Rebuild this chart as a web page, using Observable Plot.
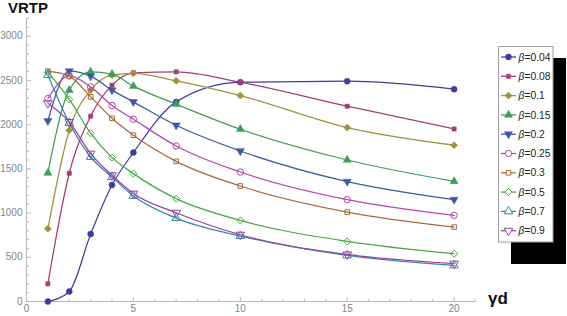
<!DOCTYPE html>
<html>
<head>
<meta charset="utf-8">
<script src="https://cdn.jsdelivr.net/npm/d3@7"></script>
<script src="https://cdn.jsdelivr.net/npm/@observablehq/plot@0.6"></script>
<style>
  html, body { margin: 0; padding: 0; background: white; overflow: hidden; }
  #wrap { position: relative; width: 567px; height: 316px; overflow: hidden; font-family: "Liberation Sans", Arial, sans-serif; }
  #wrap > svg { position: absolute; left: 0; top: 0; }
</style>
</head>
<body>
<div id="wrap"></div>
<script>
// ---- data ----
const gammaD = [1, 2, 3, 4, 5, 7, 10, 15, 20];
const betaLabels = ["0.04", "0.08", "0.1", "0.15", "0.2", "0.25", "0.3", "0.5", "0.7", "0.9"];
const vrtpB004 = [0, 113, 762, 1317, 1684, 2257, 2480, 2491, 2401];
const vrtpB008 = [200, 1450, 2095, 2446, 2586, 2597, 2480, 2208, 1951];
const vrtpB010 = [823, 1937, 2390, 2560, 2580, 2495, 2329, 1967, 1767];
const vrtpB015 = [1453, 2390, 2597, 2571, 2435, 2231, 1948, 1600, 1359];
const vrtpB020 = [2042, 2605, 2548, 2390, 2257, 1993, 1702, 1356, 1152];
const vrtpB025 = [2295, 2550, 2427, 2216, 2061, 1759, 1464, 1152, 974];
const vrtpB030 = [2605, 2548, 2314, 2072, 1880, 1585, 1306, 1011, 841];
const vrtpB050 = [2590, 2285, 1903, 1627, 1446, 1163, 917, 680, 540];
const vrtpB070 = [2560, 2019, 1634, 1408, 1193, 943, 740, 521, 408];
const vrtpB090 = [2242, 2030, 1672, 1427, 1220, 1004, 755, 532, 428];
const yTickValues = [0, 500, 1000, 1500, 2000, 2500, 3000];
const xTickValues = [0, 5, 10, 15, 20];

const seriesValues = [vrtpB004, vrtpB008, vrtpB010, vrtpB015, vrtpB020, vrtpB025, vrtpB030, vrtpB050, vrtpB070, vrtpB090];

// ---- styles ----
const colors = ["#3d3d9e", "#a33d74", "#a0913c", "#3d9e57", "#3d5aa2", "#b347ad", "#a56c3d", "#48a840", "#3d86a2", "#9444a3"];
const symbols = ["circle", "square", "diamond2", "triangle", "triangle", "circle", "square", "diamond2", "triangle", "triangle"];
const rotations = [0, 0, 0, 0, 180, 0, 0, 0, 0, 180];
const filled = [true, true, true, true, true, false, false, false, false, false];
const radii = [3, 2.4, 3.2, 3, 3, 3.2, 2.6, 3.2, 3.2, 3.2];

const rows = [];
seriesValues.forEach((vals, i) => {
  vals.forEach((v, j) => rows.push({ s: i, beta: betaLabels[i], g: gammaD[j], v }));
});

// tick symbols (inward ticks, Mathematica-style)
const axisGray = "#b8b8b8";
const hTick = L => ({ draw(ctx) { ctx.moveTo(0, 0); ctx.lineTo(L, 0); } });
const vTick = L => ({ draw(ctx) { ctx.moveTo(0, 0); ctx.lineTo(0, -L); } });
const yMinor = d3.range(0, 3201, 100).filter(d => !yTickValues.includes(d));
const xMinor = d3.range(0, 22, 1).filter(d => !xTickValues.includes(d));

const seriesMarks = [];
seriesValues.forEach((vals, i) => {
  const data = rows.filter(r => r.s === i);
  seriesMarks.push(Plot.line(data, { x: "g", y: "v", stroke: colors[i], strokeWidth: 1.25, curve: "monotone-x" }));
});
seriesValues.forEach((vals, i) => {
  const data = rows.filter(r => r.s === i);
  seriesMarks.push(Plot.dot(data, {
    x: "g", y: "v", symbol: symbols[i], r: radii[i], rotate: rotations[i],
    fill: filled[i] ? colors[i] : "none",
    stroke: colors[i], strokeWidth: filled[i] ? 0.5 : 1
  }));
});

const chart = Plot.plot({
  width: 567, height: 316,
  marginLeft: 26, marginRight: 92, marginTop: 18, marginBottom: 15,
  x: { domain: [0, 21] },
  y: { domain: [0, 3200] },
  style: { fontFamily: "'Liberation Sans', Arial, sans-serif", fontSize: "10px", color: "#858585", background: "transparent", overflow: "visible" },
  marks: [
    Plot.ruleX([0], { stroke: axisGray }),
    Plot.ruleY([0], { stroke: axisGray }),
    Plot.dot(yMinor, { x: 0, y: d => d, symbol: hTick(2.5), fill: "none", stroke: axisGray, strokeWidth: 1 }),
    Plot.dot(yTickValues, { x: 0, y: d => d, symbol: hTick(4.5), fill: "none", stroke: axisGray, strokeWidth: 1 }),
    Plot.dot(xMinor, { x: d => d, y: 0, symbol: vTick(2.5), fill: "none", stroke: axisGray, strokeWidth: 1 }),
    Plot.dot(xTickValues, { x: d => d, y: 0, symbol: vTick(4.5), fill: "none", stroke: axisGray, strokeWidth: 1 }),
    Plot.axisY({ ticks: yTickValues, tickSize: 0, tickPadding: 4, label: null, tickFormat: d => String(d) }),
    Plot.axisX({ ticks: xTickValues, tickSize: 0, tickPadding: 3, label: null, tickFormat: d => String(d) }),
    ...seriesMarks
  ]
});
const wrap = document.getElementById("wrap");
wrap.appendChild(chart);

// overlay svg: axis titles and legend
const ov = d3.select(wrap).append("svg")
  .attr("width", 567).attr("height", 316)
  .style("font-family", "'Liberation Sans', Arial, sans-serif");
ov.append("text").text("VRTP")
  .attr("x", 8).attr("y", 12.5)
  .attr("font-size", 15).attr("font-weight", "bold").attr("fill", "#111");
ov.append("text").text("γd")
  .attr("x", 488).attr("y", 304)
  .attr("font-size", 17).attr("font-weight", "bold").attr("fill", "#111");

// legend with drop shadow (right strip + bottom strip)
ov.append("rect").attr("x", 553).attr("y", 58).attr("width", 13).attr("height", 206).attr("fill", "#000");
ov.append("rect").attr("x", 511).attr("y", 242).attr("width", 55).attr("height", 22).attr("fill", "#000");
ov.append("rect").attr("x", 498.5).attr("y", 46.5).attr("width", 54.5).attr("height", 195.5)
  .attr("fill", "#fff").attr("stroke", "#a0a0a0").attr("stroke-width", 1);
const symMap = { circle: d3.symbolCircle, square: d3.symbolSquare, diamond2: d3.symbolDiamond2, triangle: d3.symbolTriangle };
betaLabels.forEach((b, i) => {
  const cy = 57 + i * 19.3;
  const g = ov.append("g");
  g.append("line").attr("x1", 501).attr("x2", 516).attr("y1", cy).attr("y2", cy)
    .attr("stroke", colors[i]).attr("stroke-width", 1.25);
  const r = radii[i];
  g.append("path")
    .attr("d", d3.symbol(symMap[symbols[i]], Math.PI * r * r)())
    .attr("transform", `translate(508.5,${cy}) rotate(${rotations[i]})`)
    .attr("fill", filled[i] ? colors[i] : "white")
    .attr("stroke", colors[i]).attr("stroke-width", filled[i] ? 0.5 : 1);
  const t = g.append("text").attr("x", 518.5).attr("y", cy + 3.6)
    .attr("font-size", 10.3).attr("fill", "#222");
  t.append("tspan").attr("font-style", "italic").text("β");
  t.append("tspan").text("=" + b);
});
</script>
</body>
</html>
